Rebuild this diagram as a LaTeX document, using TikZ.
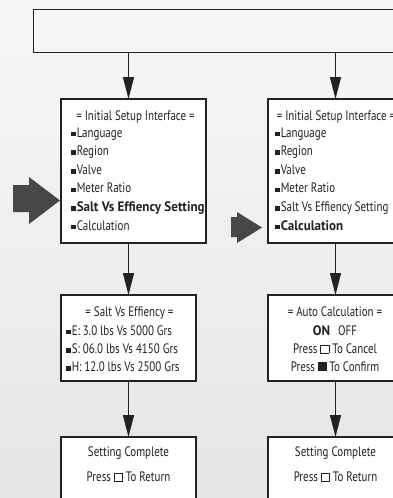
\documentclass[tikz,border=0pt]{standalone}
\usepackage{fontspec}
\setmainfont[FakeStretch=0.8, BoldFeatures={FakeStretch=0.95}]{PT Sans}
\usetikzlibrary{arrows.meta}
\definecolor{bigarrow}{HTML}{474747}
\definecolor{ink}{HTML}{222222}
\newcommand\sq{\rule[0.7pt]{5pt}{4.6pt}\hspace{0.8pt}}
\newcommand\hsq{{\fboxsep=0pt\fboxrule=0.7pt\fbox{\rule{0pt}{7.6pt}\hspace{7.6pt}}}}
\newcommand\fsq{\rule{8.5pt}{9pt}}
\begin{document}
\begin{tikzpicture}[x=1pt,y=-1pt,
  box/.style={draw=ink, line width=1.3pt, fill=white, inner sep=0pt, outer sep=0pt},
  txt/.style={inner sep=0pt, outer sep=0pt, text=ink, font=\fontsize{13.7}{16}\selectfont},
  conn/.style={draw=ink, line width=1.1pt, -{Triangle[width=11pt,length=22pt]}}]
\useasboundingbox (0,0) rectangle (393,498);
\clip (0,0) rectangle (393,498);
\shade[top color=black!3, bottom color=black!10] (0,0) rectangle (393,498);
% top frame
\node[draw=ink, line width=1pt, minimum width=387pt, minimum height=43pt, inner sep=0pt, outer sep=0pt] (top) at (226.5,30.5) {};
% boxes
\node[box, minimum width=145pt, minimum height=144pt] (b1l) at (133.5,171) {};
\node[box, minimum width=145pt, minimum height=144pt] (b1r) at (340.5,171) {};
\node[box, minimum width=135pt, minimum height=86pt] (b2l) at (128.5,338) {};
\node[box, minimum width=135pt, minimum height=86pt] (b2r) at (335.5,338) {};
\node[box, minimum width=135pt, minimum height=83pt] (b3l) at (128.5,478.5) {};
\node[box, minimum width=135pt, minimum height=83pt] (b3r) at (335.5,478.5) {};
% connectors
\draw[conn] (top.south -| b2l.north) -- (b1l.north -| b2l.north);
\draw[conn] (top.south -| b2r.north) -- (b1r.north -| b2r.north);
\draw[conn] (b1l.south -| b2l.north) -- (b2l.north);
\draw[conn] (b1r.south -| b2r.north) -- (b2r.north);
\draw[conn] (b2l.south) -- (b3l.north);
\draw[conn] (b2r.south) -- (b3r.north);
% big arrows
\fill[bigarrow] (13,185) -- (29,185) -- (29,177) -- (60,200.5) -- (29,224) -- (29,212) -- (13,212) -- cycle;
\fill[bigarrow] (231,217) -- (237,217) -- (237,212) -- (262,227.5) -- (237,243) -- (237,237) -- (231,237) -- cycle;
% box 1 left text
\node[txt, anchor=base] (h1l) at (135.5,120) {= Initial Setup Interface =};
\foreach \t [count=\i] in {Language,Region,Valve,Meter Ratio,{\textbf{Salt Vs Effiency Setting}},Calculation}
  \node[txt, anchor=base west] (l1l\i) at (71,{137+18.6*(\i-1)}) {\sq\t};
% box 1 right text
\node[txt, anchor=base] (h1r) at (336,120) {= Initial Setup Interface =};
\foreach \t [count=\i] in {Language,Region,Valve,Meter Ratio,Salt Vs Effiency Setting,{\textbf{Calculation}}}
  \node[txt, anchor=base west] (l1r\i) at (275,{137+18.6*(\i-1)}) {\sq\t};
% box 2 left text
\node[txt, anchor=base] (h2l) at (129.5,316) {= Salt Vs Effiency =};
\foreach \t [count=\i] in {E: 3.0 lbs Vs 5000 Grs,S: 06.0 lbs Vs 4150 Grs,H: 12.0 lbs Vs 2500 Grs}
  \node[txt, anchor=base west] (l2l\i) at (66,{335+18.3*(\i-1)}) {\sq\t};
% box 2 right text
\node[txt, anchor=base] (h2r) at (335,316) {= Auto Calculation =};
\node[txt, anchor=base] (on) at (335,335) {\textbf{ON}\hspace{8pt}OFF};
\node[txt, anchor=base] (cancel) at (335,353) {Press \hsq{} To Cancel};
\node[txt, anchor=base] (confirm) at (335,371) {Press \fsq{} To Confirm};
% box 3 text
\node[txt, anchor=base] (c3l) at (128.5,456) {Setting Complete};
\node[txt, anchor=base] (p3l) at (128.5,481) {Press \hsq{} To Return};
\node[txt, anchor=base] (c3r) at (335.5,456) {Setting Complete};
\node[txt, anchor=base] (p3r) at (335.5,481) {Press \hsq{} To Return};
\end{tikzpicture}
\end{document}
